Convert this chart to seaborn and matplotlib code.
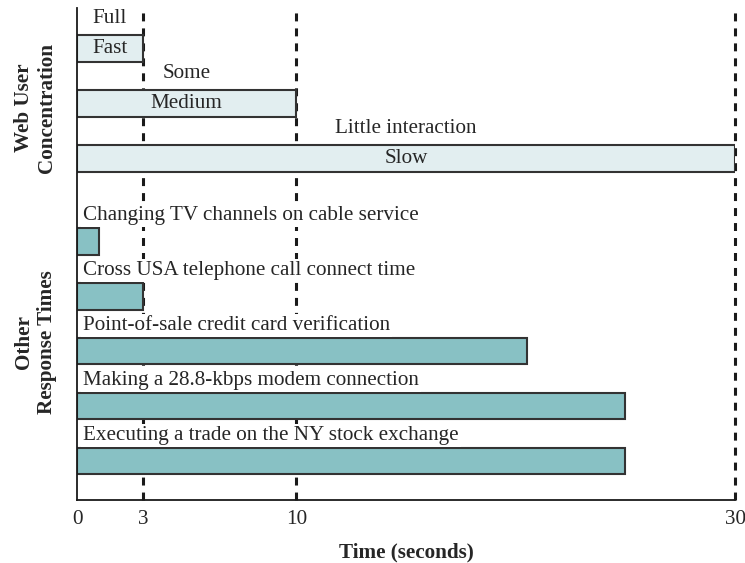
import matplotlib
matplotlib.use("Agg")
import matplotlib.pyplot as plt
import seaborn as sns
import pandas as pd

# ---- data ----
web_speeds = ["Fast", "Medium", "Slow"]
web_times = [3, 10, 30]
web_concentration = ["Full", "Some", "Little interaction"]

other_tasks = [
    "Changing TV channels on cable service",
    "Cross USA telephone call connect time",
    "Point-of-sale credit card verification",
    "Making a 28.8-kbps modem connection",
    "Executing a trade on the NY stock exchange",
]
other_times = [1, 3, 20.5, 25, 25]

x_ticks = [0, 3, 10, 30]
threshold_lines = [3, 10, 30]
group_labels = ["Web User\nConcentration", "Other\nResponse Times"]

# ---- layout ----
web_pos = [0, 1, 2]
other_pos = [3.5, 4.5, 5.5, 6.5, 7.5]
group_pos = [1.08, 5.34]

df = pd.DataFrame({
    "time": web_times + other_times,
    "pos": web_pos + other_pos,
    "group": ["web"] * len(web_times) + ["other"] * len(other_times),
})

sns.set_style("white")
plt.rcParams["font.family"] = ["Liberation Serif", "DejaVu Serif"]

fig = plt.figure(figsize=(7.45, 5.63), dpi=100)
ax = fig.add_axes([0.1034, 0.1119, 0.8832, 0.8739])

for xv in threshold_lines:
    ax.axvline(xv, color="#1a1a1a", lw=2.2, linestyle=(0, (2.6, 2.3)),
               zorder=1, clip_on=False)

sns.barplot(data=df, x="time", y="pos", hue="group", orient="y",
            native_scale=True, dodge=False, width=0.49, errorbar=None,
            palette={"web": "#e2eef0", "other": "#88c1c4"}, saturation=1,
            edgecolor="#333333", linewidth=1.5, legend=False, ax=ax, zorder=2)

fs = 15.2
box = dict(facecolor="white", edgecolor="none", pad=1.5)
for p, t, sp, conc in zip(web_pos, web_times, web_speeds, web_concentration):
    ax.text(t / 2, p, sp, ha="center", va="center", fontsize=fs, zorder=4)
    ax.text(t / 2, p - 0.55, conc, ha="center", va="center", fontsize=fs,
            zorder=4, bbox=box)

for p, lab in zip(other_pos, other_tasks):
    ax.text(0.27, p - 0.47, lab, ha="left", va="center", fontsize=fs,
            zorder=4, bbox=box)

ax.set_xlim(0, 30)
ax.set_ylim(8.21, -0.74)
ax.set_xticks(x_ticks)
ax.set_xticklabels([str(v) for v in x_ticks], fontsize=fs)
ax.set_yticks(group_pos)
ax.set_yticklabels(group_labels, rotation=90, va="center", ha="center",
                   fontsize=fs, fontweight="bold", multialignment="center")
ax.tick_params(axis="both", length=0)
ax.tick_params(axis="y", pad=30)
ax.tick_params(axis="x", pad=7)
ax.set_xlabel("Time (seconds)", fontsize=fs, fontweight="bold", labelpad=10)
ax.set_ylabel("")

for s in ["top", "right"]:
    ax.spines[s].set_visible(False)
for s in ["left", "bottom"]:
    ax.spines[s].set_color("#1a1a1a")
    ax.spines[s].set_linewidth(1.3)

fig.savefig("out.png", dpi=100)
